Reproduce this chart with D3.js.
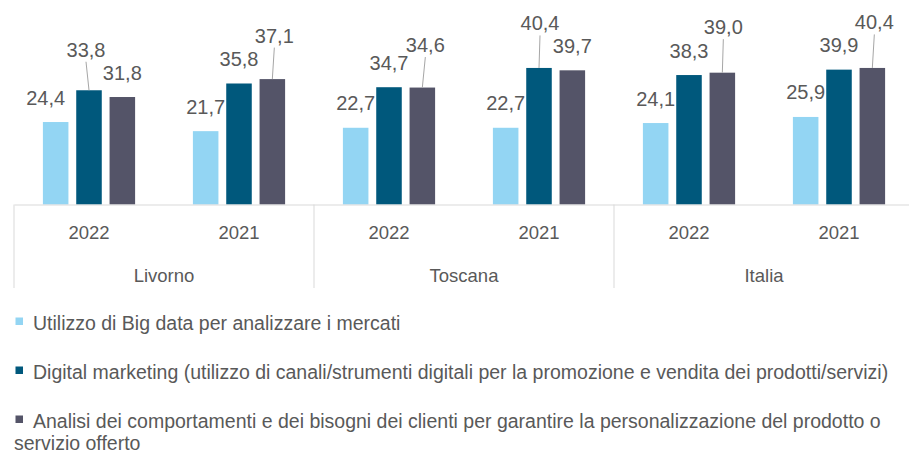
<!DOCTYPE html>
<html>
<head>
<meta charset="utf-8">
<script src="https://cdn.jsdelivr.net/npm/d3@7"></script>
<style>
  html, body { margin: 0; padding: 0; background: #fff; }
  svg { display: block; font-family: "Liberation Sans", Arial, sans-serif; }
</style>
</head>
<body>
<div id="chart"></div>
<script>
// data
var regions = ["Livorno", "Toscana", "Italia"];
var years = ["2022", "2021"];
var seriesNames = [
	"Utilizzo di Big data per analizzare i mercati",
	"Digital marketing (utilizzo di canali/strumenti digitali per la promozione e vendita dei prodotti/servizi)",
	"Analisi dei comportamenti e dei bisogni dei clienti per garantire la personalizzazione del prodotto o servizio offerto"
];
// one value per region/year, in the order Livorno 2022, Livorno 2021, Toscana 2022, ...
var bigData = [24.4, 21.7, 22.7, 22.7, 24.1, 25.9];
var digitalMarketing = [33.8, 35.8, 34.7, 40.4, 38.3, 39.9];
var analisiClienti = [31.8, 37.1, 34.6, 39.7, 39.0, 40.4];

var colors = ["#93d5f3", "#00587c", "#545468"];

// labels that were dragged up in the original (with a leader line) or sideways
var labelNudge = {
	"Livorno|2022|0": [-10, 0],
	"Livorno|2022|1": [-3, -16],
	"Livorno|2021|2": [2, -19],
	"Toscana|2022|2": [3, -18],
	"Toscana|2021|1": [1, -20],
	"Italia|2022|2": [1, -21],
	"Italia|2021|2": [2, -21]
};

var width = 909, height = 455;
var textColor = "#595959";
var axisColor = "#d9d9d9";

var svg = d3.select("#chart").append("svg")
	.attr("width", width).attr("height", height);

var keys = [];
regions.forEach(function(r) {
	years.forEach(function(yr) { keys.push(r + "|" + yr); });
});
var allSeries = [bigData, digitalMarketing, analisiClienti];

var left = 14, right = 914;
var x0 = d3.scaleBand().domain(keys).range([left, right]);
var xr = d3.scaleBand().domain(regions).range([left, right]);
var xs = d3.scaleBand().domain(d3.range(allSeries.length))
	.range([0, x0.bandwidth()]).paddingInner(0.234).paddingOuter(0.867);
var y = d3.scaleLinear().domain([0, 45]).range([204.5, 52.4]);

var fmt = function(v) { return d3.format(".1f")(v).replace(".", ","); };

// bars
var rows = [];
keys.forEach(function(k, i) {
	allSeries.forEach(function(s, j) {
		rows.push({ key: k, s: j, value: s[i] });
	});
});

svg.append("g").selectAll("rect").data(rows).enter().append("rect")
	.attr("x", function(d) { return x0(d.key) + xs(d.s); })
	.attr("y", function(d) { return y(d.value); })
	.attr("width", xs.bandwidth())
	.attr("height", function(d) { return y(0) - y(d.value); })
	.attr("fill", function(d) { return colors[d.s]; });

// data labels
var labels = svg.append("g");
rows.forEach(function(d) {
	var cx = x0(d.key) + xs(d.s) + xs.bandwidth() / 2;
	var top = y(d.value);
	var nudge = labelNudge[d.key + "|" + d.s] || [0, 0];
	var lx = cx + nudge[0];
	var ly = top - 17.5 + nudge[1];
	if (nudge[1] < 0) {
		labels.append("line")
			.attr("x1", cx).attr("y1", top)
			.attr("x2", lx).attr("y2", ly + 5)
			.attr("stroke", "#a6a6a6").attr("stroke-width", 1);
	}
	labels.append("text").text(fmt(d.value))
		.attr("x", lx).attr("y", ly)
		.attr("text-anchor", "middle")
		.attr("font-size", "20px")
		.attr("fill", textColor);
});

// category axis: years
var yearAxis = svg.append("g")
	.attr("transform", "translate(0," + y(0) + ")")
	.call(d3.axisBottom(x0).tickSize(0).tickSizeOuter(0).tickPadding(21.5)
		.tickFormat(function(k) { return k.split("|")[1]; }));
yearAxis.select(".domain").attr("stroke", axisColor);
yearAxis.selectAll("text").attr("font-size", "18.5px").attr("fill", textColor)
	.attr("font-family", null);

// category axis: regions
var regionAxis = svg.append("g")
	.attr("transform", "translate(0," + y(0) + ")")
	.call(d3.axisBottom(xr).tickSize(0).tickPadding(64.5));
regionAxis.select(".domain").remove();
regionAxis.selectAll("text").attr("font-size", "18.5px").attr("fill", textColor)
	.attr("font-family", null);

// separators between regions
var bounds = regions.map(function(r) { return xr(r); }).concat([right]);
svg.append("g").selectAll("line").data(bounds).enter().append("line")
	.attr("x1", function(d) { return d; }).attr("x2", function(d) { return d; })
	.attr("y1", y(0)).attr("y2", y(0) + 83.5)
	.attr("stroke", axisColor).attr("stroke-width", 1);

// legend
var legend = svg.append("g").attr("font-size", "19.5px").attr("fill", textColor);
var maxLine = 905;
seriesNames.forEach(function(name, i) {
	var by = 330 + i * 49;
	legend.append("rect")
		.attr("x", 15.5).attr("y", by - 12.5)
		.attr("width", 7.5).attr("height", 7.5)
		.attr("fill", colors[i]);
	var t = legend.append("text").attr("x", 33).attr("y", by);
	// simple word wrap: following lines start at the square's left edge
	var words = name.split(" ");
	var line = [];
	var ts = t.append("tspan").attr("x", 33).attr("y", by);
	var lineNo = 0;
	words.forEach(function(w) {
		line.push(w);
		ts.text(line.join(" "));
		var startX = lineNo === 0 ? 33 : 14;
		if (startX + ts.node().getComputedTextLength() > maxLine && line.length > 1) {
			line.pop();
			ts.text(line.join(" "));
			line = [w];
			lineNo++;
			ts = t.append("tspan").attr("x", 14).attr("y", by + lineNo * 22).text(w);
		}
	});
});
</script>
</body>
</html>
